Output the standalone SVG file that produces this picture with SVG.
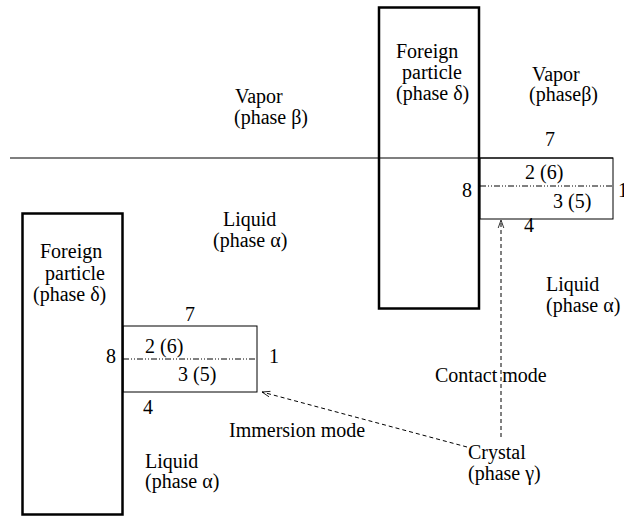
<svg xmlns="http://www.w3.org/2000/svg" width="624" height="517" viewBox="0 0 624 517">
<style>
text{font-family:"Liberation Serif","Times New Roman",serif;font-size:20px;fill:#000}
.particle{fill:none;stroke:#000;stroke-width:2.5}
.box{fill:none;stroke:#000;stroke-width:1}
.mid{stroke:#000;stroke-width:1;stroke-dasharray:6 2 1 2 1 2}
.dash{fill:none;stroke:#000;stroke-width:1;stroke-dasharray:4 3}
</style>
<defs>
<marker id="ah" viewBox="0 0 10 10" refX="10" refY="5" markerWidth="10" markerHeight="8" markerUnits="userSpaceOnUse" orient="auto">
<path d="M0,1.5 L10,5 L0,8.5" fill="none" stroke="#000" stroke-width="1"/>
</marker>
</defs>
<line x1="10" y1="158" x2="613" y2="158" stroke="#555" stroke-width="1.3"/>
<g id="vapor-left">
<text x="235" y="103">Vapor</text>
<text x="234" y="124">(phase β)</text>
</g>
<g id="top-particle">
<rect class="particle" x="379" y="7.5" width="100" height="301"/>
<text x="396" y="58">Foreign</text>
<text x="402" y="79">particle</text>
<text x="396" y="100">(phase δ)</text>
</g>
<g id="vapor-right">
<text x="532" y="81">Vapor</text>
<text x="529" y="101">(phaseβ)</text>
</g>
<g id="top-crystal">
<rect class="box" x="480" y="158" width="133" height="61"/>
<line class="mid" x1="480" y1="186" x2="613" y2="186"/>
<text x="545" y="146">7</text>
<text x="525" y="179">2 (6)</text>
<text x="462" y="197">8</text>
<text x="618" y="197">1</text>
<text x="553" y="208">3 (5)</text>
<text x="524" y="232">4</text>
</g>
<g id="liquid-right">
<text x="546" y="291">Liquid</text>
<text x="546" y="312">(phase α)</text>
</g>
<g id="liquid-upper-left">
<text x="223" y="226">Liquid</text>
<text x="213" y="247">(phase α)</text>
</g>
<g id="bottom-particle">
<rect class="particle" x="22.5" y="213.5" width="100" height="301"/>
<text x="40" y="258">Foreign</text>
<text x="45" y="280">particle</text>
<text x="33" y="301">(phase δ)</text>
</g>
<g id="bottom-crystal">
<rect class="box" x="123" y="326" width="134" height="66"/>
<line class="mid" x1="123" y1="359" x2="257" y2="359"/>
<text x="185" y="321">7</text>
<text x="145" y="353">2 (6)</text>
<text x="106" y="363">8</text>
<text x="269" y="363">1</text>
<text x="178" y="381">3 (5)</text>
<text x="143" y="414">4</text>
</g>
<g id="liquid-lower-left">
<text x="145" y="468">Liquid</text>
<text x="145" y="488">(phase α)</text>
</g>
<g id="crystal">
<text x="468" y="459">Crystal</text>
<text x="468" y="480">(phase γ)</text>
</g>
<g id="connectors">
<line class="dash" x1="501" y1="437" x2="501" y2="220" marker-end="url(#ah)"/>
<line class="dash" x1="467" y1="447" x2="262" y2="392" marker-end="url(#ah)"/>
<text x="229" y="437">Immersion mode</text>
<text x="435" y="382">Contact mode</text>
</g>
</svg>
